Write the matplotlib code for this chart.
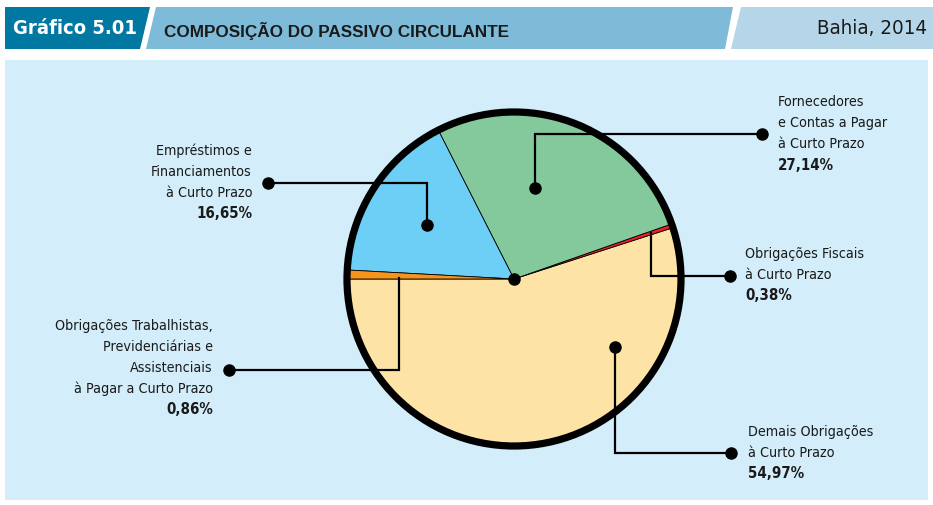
import numpy as np
import matplotlib
matplotlib.use('Agg')
import matplotlib.pyplot as plt
from matplotlib import font_manager
from matplotlib.font_manager import FontProperties
from matplotlib.textpath import TextPath
from matplotlib.patches import Polygon, Rectangle, Circle

# pick the narrowest installed family we can find
avail = font_manager.fontManager.ttflist
names = {f.name for f in avail}
stretch = 'normal'
if 'Liberation Sans Narrow' in names:
    fam = 'Liberation Sans Narrow'
elif any(f.name == 'DejaVu Sans' and f.stretch in ('condensed', 'semi-condensed') for f in avail):
    fam = 'DejaVu Sans'
    stretch = 'condensed'
else:
    fam = 'Liberation Sans'
plt.rcParams['font.family'] = [fam, 'DejaVu Sans']
plt.rcParams['font.stretch'] = stretch

# data
categories = [
    'Demais Obrigações\nà Curto Prazo',
    'Obrigações Fiscais\nà Curto Prazo',
    'Fornecedores\ne Contas a Pagar\nà Curto Prazo',
    'Empréstimos e\nFinanciamentos\nà Curto Prazo',
    'Obrigações Trabalhistas,\nPrevidenciárias e\nAssistenciais\nà Pagar a Curto Prazo',
]
values = [54.97, 0.38, 27.14, 16.65, 0.86]
pct_labels = ['54,97%', '0,38%', '27,14%', '16,65%', '0,86%']
slice_colors = ['#fee3a6', '#ec2127', '#83c99b', '#6dcff6', '#f7941d']


def fit_size(s, target_px, weight='normal', family=None, cap=30):
    fp = FontProperties(family=family or [fam], weight=weight, stretch=stretch, size=10)
    w = TextPath((0, 0), s, size=10, prop=fp).get_extents().width * 100 / 72
    return min(cap, 10 * target_px / w)


W, H = 933, 505
fig = plt.figure(figsize=(W / 100, H / 100), dpi=100)
ax = fig.add_axes([0, 0, 1, 1])


def Y(y):
    # pixel row -> data y
    return H - y

# panel
ax.add_patch(Rectangle((5, Y(500)), 923, 440, color='#d3eefa', lw=0, zorder=0))

# pie
cx, cy, r = 514, Y(279), 166
ax.pie(values, colors=slice_colors, startangle=180, counterclock=True,
       center=(cx, cy), radius=r, frame=True,
       wedgeprops=dict(edgecolor='black', linewidth=0.6))
ax.set_xlim(0, W)
ax.set_ylim(0, H)
ax.set_aspect('equal')
ax.axis('off')
ax.add_patch(Circle((cx, cy), r + 1, fill=False, edgecolor='black', lw=5.2, zorder=5))
ax.plot([cx], [cy], 'o', color='black', ms=8, zorder=6)

# header
ax.add_patch(Polygon([(5, Y(7)), (150, Y(7)), (140, Y(49)), (5, Y(49))],
                     closed=True, color='#0078a1', lw=0))
ax.add_patch(Polygon([(156, Y(7)), (733, Y(7)), (725, Y(49)), (146, Y(49))],
                     closed=True, color='#7dbbd9', lw=0))
ax.add_patch(Polygon([(741, Y(7)), (933, Y(7)), (933, Y(49)), (731, Y(49))],
                     closed=True, color='#b4d6e8', lw=0))
ax.text(13, Y(29), 'Gráfico 5.01', color='white',
        fontsize=fit_size('Gráfico 5.01', 122, 'bold'), fontweight='bold',
        ha='left', va='center')
ax.text(164, Y(31), 'COMPOSIÇÃO DO PASSIVO CIRCULANTE', color='#1a1a1a',
        fontsize=fit_size('COMPOSIÇÃO DO PASSIVO CIRCULANTE', 343, 'bold',
                          ['Liberation Sans', 'DejaVu Sans']),
        fontweight='bold', family=['Liberation Sans', 'DejaVu Sans'],
        ha='left', va='center')
ax.text(927, Y(29), 'Bahia, 2014', color='#1a1a1a',
        fontsize=fit_size('Bahia, 2014', 107), ha='right', va='center')

# leader lines: (path points in pixels, text x, text y of first line, ha)
leaders = [
    ([(615, 347), (615, 453), (731, 453)], 748, 432, 'left'),
    ([(651, 233), (651, 276), (730, 276)], 745, 254, 'left'),
    ([(535, 188), (535, 134), (762, 134)], 778, 102, 'left'),
    ([(427, 225), (427, 183), (268, 183)], 252, 151, 'right'),
    ([(399, 278), (399, 370), (229, 370)], 213, 326, 'right'),
]
inner_dot = [True, False, True, True, False]
fs = fit_size('Obrigações Trabalhistas,', 155)
fs_b = fit_size('27,14%', 55, 'bold')
line_h = 21
for (pts, tx, ty, ha), cat, pct, dot in zip(leaders, categories, pct_labels, inner_dot):
    xs = [p[0] for p in pts]
    ys = [Y(p[1]) for p in pts]
    ax.plot(xs, ys, color='black', lw=1.6, zorder=7, solid_joinstyle='miter')
    ax.plot([xs[-1]], [ys[-1]], 'o', color='black', ms=8, zorder=8)
    if dot:
        ax.plot([xs[0]], [ys[0]], 'o', color='black', ms=8, zorder=8)
    lines = cat.split('\n')
    for i, t in enumerate(lines):
        ax.text(tx, Y(ty + i * line_h), t, fontsize=fs, color='#1a1a1a',
                ha=ha, va='center', zorder=9)
    ax.text(tx, Y(ty + len(lines) * line_h), pct, fontsize=fs_b, fontweight='bold',
            color='#1a1a1a', ha=ha, va='center', zorder=9)

fig.savefig('out.png', dpi=100, facecolor='white')
